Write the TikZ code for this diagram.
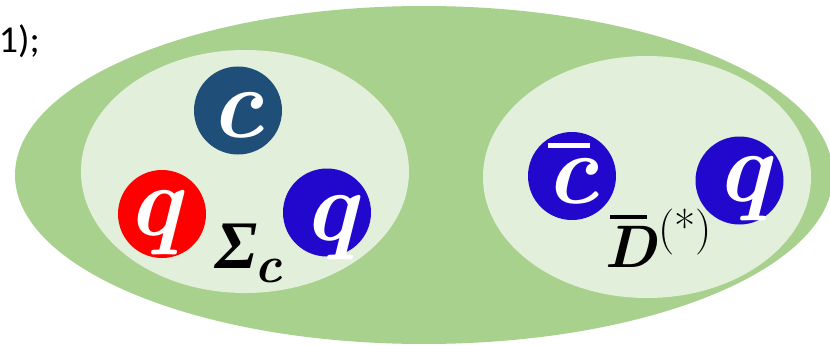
\documentclass[tikz,border=0pt]{standalone}
\usepackage{fontspec}
\newfontfamily\greekfont{Liberation Serif}
\newfontfamily\labelfont{Carlito}
\usetikzlibrary{shapes.geometric}
\definecolor{biggreen}{HTML}{A9D18E}
\definecolor{palegreen}{HTML}{E2EFDA}
\definecolor{darkq}{RGB}{31,78,121}
\definecolor{redq}{RGB}{255,0,0}
\definecolor{blueq}{RGB}{33,8,204}
\tikzset{
  blob/.style={ellipse, inner sep=0pt, outer sep=0pt, draw=none},
  quark/.style={circle, inner sep=0pt, outer sep=0pt, minimum size=88pt, draw=none},
  glyph/.style={inner sep=0pt, outer sep=0pt, anchor=base, text=white,
    font=\rmfamily\fontsize{100}{100}\selectfont\bfseries\itshape},
  hadron/.style={inner sep=0pt, outer sep=0pt, anchor=base west, text=black, font=\rmfamily}
}
\begin{document}
\begin{tikzpicture}[x=1pt, y=-1pt]
\useasboundingbox (0,0) rectangle (830,345);
\clip (0,0) rectangle (830,345);
% outer molecule
\node[blob, fill=biggreen, minimum width=818pt, minimum height=338pt] (outer) at (424,175) {};
% inner hadrons
\node[blob, fill=palegreen, minimum width=328pt, minimum height=243pt] (sigma) at (245,171.5) {};
\node[blob, fill=palegreen, minimum width=328pt, minimum height=242pt] (dmeson) at (647,177) {};
% quarks
\node[quark, fill=darkq] (qc) at (238,110.5) {};
\node[quark, fill=redq] (qr) at (162,214) {};
\node[quark, fill=blueq] (qb) at (327,212.5) {};
\node[quark, fill=blueq] (qcbar) at (572,176) {};
\node[quark, fill=blueq] (qd) at (739.5,180.5) {};
% quark letters
\node[glyph] (tc) at (237,137) {c};
\node[glyph] (tr) at (154,235) {q};
\node[glyph] (tb) at (330,240) {q};
\node[glyph] (tcbar) at (572,203) {\makebox[0pt][l]{\hspace{3pt}\rule[55pt]{42pt}{5pt}}c};
\node[glyph] (td) at (743,201) {q};
% hadron labels
\node[hadron] (lsigma) at (215,268) {{\greekfont\fontsize{68}{68}\selectfont\bfseries\itshape Σ}\kern-3pt\raisebox{-14pt}{\fontsize{52}{52}\selectfont\bfseries\itshape c}};
\node[hadron] (ldbar) at (604,267) {\fontsize{60}{60}\selectfont\makebox[0pt][l]{\hspace{6pt}\rule[48pt]{37pt}{4pt}}\bfseries\itshape D\kern2pt\raisebox{24pt}{\fontsize{46}{46}\selectfont\mdseries\upshape (*)}};
% cut-off text at top left
\node[inner sep=0pt, anchor=base east, font=\labelfont\fontsize{38}{38}\selectfont] (eq) at (40,53) {1);};
\end{tikzpicture}
\end{document}
